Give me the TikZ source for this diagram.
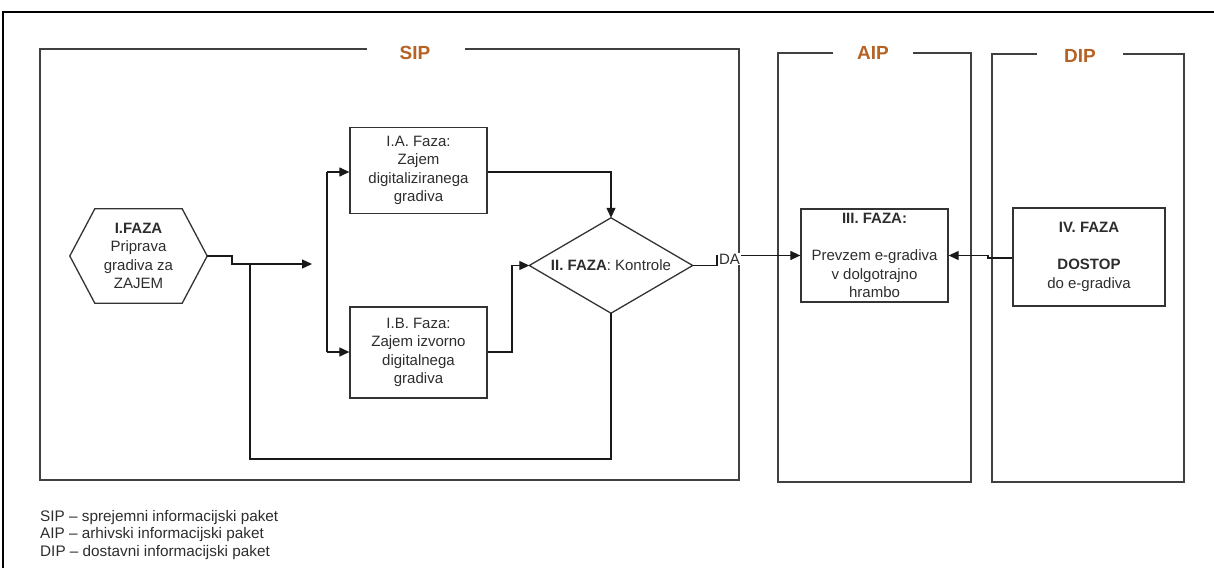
\documentclass[tikz,border=0pt]{standalone}
\usepackage{fontspec}
\setmainfont{Liberation Sans}
\usetikzlibrary{arrows.meta,calc}
\definecolor{titlebrown}{RGB}{181,98,36}
\definecolor{txt}{RGB}{45,45,45}
\begin{document}
\begin{tikzpicture}[x=1pt,y=-1pt,
  boxline/.style={draw=black!80, line width=1.3pt},
  boxfont/.style={font=\fontsize{15}{18.5}\selectfont, text=txt},
  fazabox/.style={boxline, boxfont, rectangle, inner sep=0pt, align=center},
  conn/.style={draw=black!90, line width=1.2pt},
  arr/.style={conn, -{Triangle[length=10pt,width=9pt]}},
  title/.style={text=titlebrown, font=\fontsize{19}{22}\selectfont\bfseries},
  frameline/.style={draw=black!75, line width=1.5pt}
]
\useasboundingbox (0,0) rectangle (1214,568);
% outer frame
\draw[line width=1.8pt] (3,568) -- (3,12) -- (1214,12);
% SIP
\draw[frameline] (367,49) -- (40,49) -- (40,480) -- (739,480) -- (739,49) -- (465,49);
\node[title] (sip) at (415,53) {SIP};
% AIP
\draw[frameline] (833,53) -- (778,53) -- (778,482) -- (971,482) -- (971,53) -- (913,53);
\node[title] (aip) at (873,53) {AIP};
% DIP
\draw[frameline] (1037,54) -- (992,54) -- (992,482) -- (1184,482) -- (1184,54) -- (1123,54);
\node[title] (dip) at (1080,56) {DIP};

% hexagon
\node[boxfont, minimum width=137pt, minimum height=94pt, inner sep=0pt, align=center] (hex) at (138.5,256) {\textbf{I.FAZA}\\Priprava\\gradiva za\\ZAJEM};
\draw[boxline] (hex.west) -- ($(hex.north west)+(25,0)$) -- ($(hex.north east)+(-25,0)$) -- (hex.east) -- ($(hex.south east)+(-25,0)$) -- ($(hex.south west)+(25,0)$) -- cycle;

% phase boxes
\node[fazabox, minimum width=137pt, minimum height=86pt] (IA) at (418.5,170.5) {I.A. Faza:\\Zajem\\digitaliziranega\\gradiva};
\node[fazabox, minimum width=137pt, minimum height=91pt] (IB) at (418.5,352.5) {I.B. Faza:\\Zajem izvorno\\digitalnega\\gradiva};

% diamond
\node[boxfont, minimum width=163pt, minimum height=95pt, inner sep=0pt] (dia) at (611,265.5) {\textbf{II. FAZA}: Kontrole};
\draw[boxline] (dia.north) -- (dia.east) -- (dia.south) -- (dia.west) -- cycle;

\node[fazabox, minimum width=147pt, minimum height=93pt] (III) at (874.5,255.5) {\textbf{III. FAZA:}\\[18.5pt]Prevzem e-gradiva\\v dolgotrajno\\hrambo};
\node[fazabox, minimum width=152pt, minimum height=98pt] (IV) at (1089,257) {\textbf{IV. FAZA}\\[18.5pt]\textbf{DOSTOP}\\do e-gradiva};

% connectors
\coordinate (split) at (312,264);
\coordinate (hstep) at (232,256);
\draw[arr] (hex.east) -- (hstep) -- (hstep |- split) -- (split);
\coordinate (bustop) at (327,172);
\coordinate (busbot) at (327,352);
\draw[conn] (bustop) -- (busbot);
\draw[arr] (bustop) -- (IA.west |- bustop);
\draw[arr] (busbot) -- (IB.west |- busbot);
\draw[arr] (IA.east |- bustop) -- (dia.north |- bustop) -- (dia.north);
\coordinate (ibup) at (512,352);
\draw[arr] (IB.east |- ibup) -- (ibup) -- (ibup |- dia.west) -- (dia.west);
\coordinate (fb) at (250,459);
\coordinate (junc) at (250,264);
\draw[conn] (dia.south) -- (dia.south |- fb) -- (fb) -- (junc);
\coordinate (dastep) at (717,265.5);
\draw[arr] (dia.east) -- (dastep) -- (dastep |- III.west) -- (III.west);
\node[boxfont, fill=white, inner sep=1pt] (da) at (729.5,259) {DA};
\coordinate (ivstep) at (988,258);
\draw[arr] (IV.west |- ivstep) -- (ivstep) -- (ivstep |- III.east) -- (III.east);

% legend
\node[anchor=west, align=left, inner sep=0pt, text=txt, font=\fontsize{15.3}{17.5}\selectfont] (legend) at (40,535) {SIP – sprejemni informacijski paket\\AIP – arhivski informacijski paket\\DIP – dostavni informacijski paket};
\end{tikzpicture}
\end{document}
